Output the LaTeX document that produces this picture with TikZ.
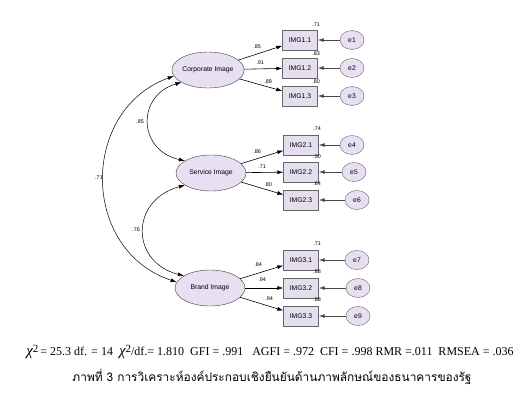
\documentclass[tikz,border=0pt]{standalone}
\usepackage{fontspec}
\setmainfont{Liberation Serif}
\newfontfamily\semfont{Liberation Sans}
\newfontfamily\thaifont[Script=Thai]{Loma}
\usetikzlibrary{positioning,calc}
\usetikzlibrary{arrows.meta,shapes.geometric}
\definecolor{SemLav}{RGB}{232,224,242}
\definecolor{BoxLav}{RGB}{228,222,238}
\definecolor{EdgeGray}{RGB}{70,70,70}
\tikzset{
  lat/.style={ellipse,draw=black!75,fill=SemLav,minimum width=70pt,minimum height=36pt,inner sep=0pt,font=\semfont\fontsize{6.8}{7}\selectfont},
  ind/.style={rectangle,draw=black!60,fill=BoxLav,minimum width=35pt,minimum height=20pt,inner sep=0pt,font=\semfont\fontsize{6.8}{7}\selectfont},
  err/.style={ellipse,draw=black!60,fill=SemLav,minimum width=24pt,minimum height=19pt,inner sep=0pt,font=\semfont\fontsize{6.8}{7}\selectfont},
  load/.style={draw=black,line width=0.6pt,-{Latex[length=6pt,width=4pt]}},
  res/.style={draw=EdgeGray,line width=0.8pt,-{Latex[length=6pt,width=4pt]}},
  cov/.style={draw=black,line width=0.5pt,{Latex[length=6pt,width=4pt]}-{Latex[length=6pt,width=4pt]}},
}
\tikzset{coef/.style={font=\semfont\fontsize{5.4}{5.4}\selectfont,inner sep=0pt}, fit/.style={font=\fontsize{12}{14}\selectfont,inner sep=0pt}}

\begin{document}
\begin{tikzpicture}[x=1pt,y=-1pt]
\useasboundingbox (0,0) rectangle (529,402);
\coordinate (pcor) at (208,70);
\coordinate (pser) at (211,173);
\coordinate (pbra) at (210,288);
\node[lat] (cor) at (pcor) {Corporate Image};
\node[lat] (ser) at (pser) {Service Image};
\node[lat] (bra) at (pbra) {Brand Image};
\node[ind] (i11) at (300,40) {IMG1.1};
\node[ind] (i12) at (300,68) {IMG1.2};
\node[ind] (i13) at (300,96) {IMG1.3};
\node[ind] (i21) at (301,145) {IMG2.1};
\node[ind] (i22) at (301,172) {IMG2.2};
\node[ind] (i23) at (301,200) {IMG2.3};
\node[ind] (i31) at (301,260) {IMG3.1};
\node[ind] (i32) at (301,288) {IMG3.2};
\node[ind] (i33) at (301,316) {IMG3.3};
\node[err] (e1) at (352,40) {e1};
\node[err] (e2) at (352,68) {e2};
\node[err] (e3) at (352,96) {e3};
\node[err] (e4) at (352,145) {e4};
\node[err] (e5) at (354,172) {e5};
\node[err] (e6) at (357,200) {e6};
\node[err] (e7) at (357,260) {e7};
\node[err] (e8) at (358,288) {e8};
\node[err] (e9) at (358,316) {e9};
% loadings
\draw[load] (cor) -- (i11);
\draw[load] (cor) -- (i12);
\draw[load] (cor) -- (i13);
\draw[load] (ser) -- (i21);
\draw[load] (ser) -- (i22);
\draw[load] (ser) -- (i23);
\draw[load] (bra) -- (i31);
\draw[load] (bra) -- (i32);
\draw[load] (bra) -- (i33);
% residuals
\draw[res] (e1) -- (i11);
\draw[res] (e2) -- (i12);
\draw[res] (e3) -- (i13);
\draw[res] (e4) -- (i21);
\draw[res] (e5) -- (i22);
\draw[res] (e6) -- (i23);
\draw[res] (e7) -- (i31);
\draw[res] (e8) -- (i32);
\draw[res] (e9) -- (i33);
% covariances
\draw[cov] (cor.205) .. controls (137,95) and (137,150) .. (ser.155);
\draw[cov] (ser.205) .. controls (130,200) and (130,262) .. (bra.155);
\draw[cov] (cor.190) .. controls (80,110) and (80,250) .. (bra.170);
\node[coef] (c85) at (140,122) {.85};
\node[coef] (c76) at (136,230) {.76};
\node[coef] (c71) at (99,178) {.71};
% loading values
\node[coef] (l11) at (257,47) {.85};
\node[coef] (l12) at (260,63) {.91};
\node[coef] (l13) at (268,82) {.89};
\node[coef] (l21) at (257,152) {.86};
\node[coef] (l22) at (262,167) {.71};
\node[coef] (l23) at (268,185) {.80};
\node[coef] (l31) at (258,265) {.84};
\node[coef] (l32) at (262,280) {.94};
\node[coef] (l33) at (269,299) {.94};
% squared multiple correlations
\node[coef] (r11) at (316,25) {.71};
\node[coef] (r12) at (316,54) {.83};
\node[coef] (r13) at (316,82) {.80};
\node[coef] (r21) at (317,129) {.74};
\node[coef] (r22) at (317,157) {.50};
\node[coef] (r23) at (317,184) {.64};
\node[coef] (r31) at (317,244) {.71};
\node[coef] (r32) at (317,272) {.88};
\node[coef] (r33) at (317,300) {.88};
% fit indices and caption
\node[fit] (fitline) at (270,352) {{\fontsize{15}{15}\itshape χ}\raisebox{3pt}{\fontsize{11}{11}\selectfont 2}\,= 25.3 df. = 14~~{\fontsize{15}{15}\itshape χ}\raisebox{3pt}{\fontsize{11}{11}\selectfont 2}/df.= 1.810~~GFI = .991~~~AGFI = .972~~CFI = .998 RMR =.011~~RMSEA = .036};
\node[fit] (caption) at (272,377) {\fontsize{11.9}{14}\thaifont ภาพที่ 3 การวิเคราะห์องค์ประกอบเชิงยืนยันด้านภาพลักษณ์ของธนาคารของรัฐ};
\end{tikzpicture}
\end{document}
